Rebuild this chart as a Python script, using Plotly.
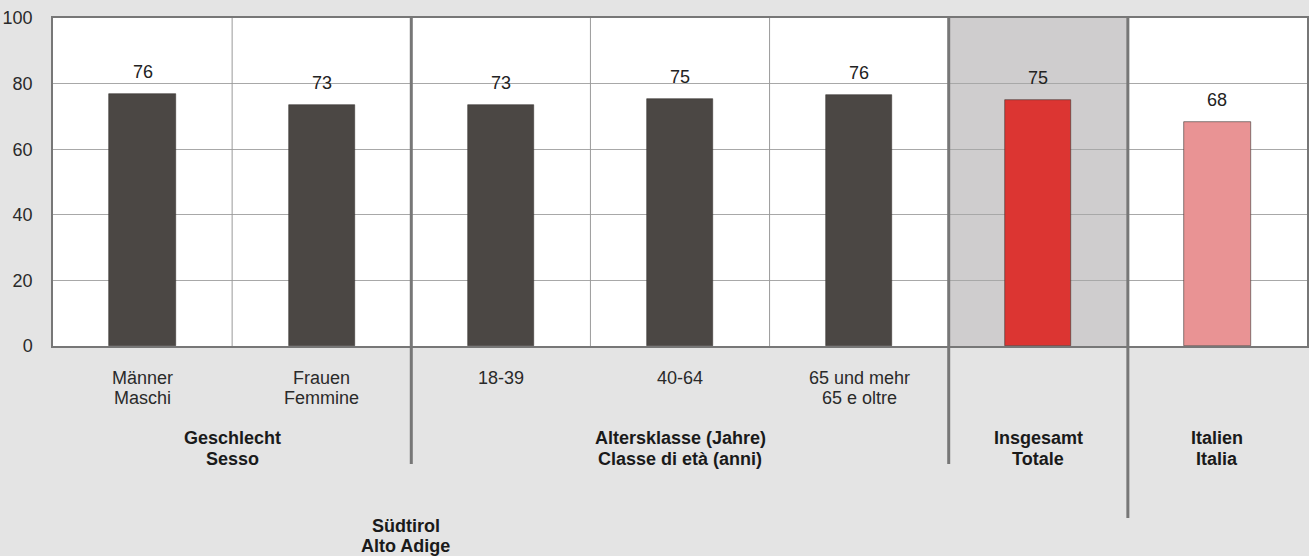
import plotly.graph_objects as go

cat_line1 = ["Männer", "Frauen", "18-39", "40-64", "65 und mehr", "", ""]
cat_line2 = ["Maschi", "Femmine", "", "", "65 e oltre", "", ""]
values = [76.8, 73.6, 73.6, 75.4, 76.5, 75.0, 68.3]
value_labels = ["76", "73", "73", "75", "76", "75", "68"]
bar_colors = ["#4b4744", "#4b4744", "#4b4744", "#4b4744", "#4b4744", "#dc3532", "#e99394"]
group_line1 = ["Geschlecht", "Altersklasse (Jahre)", "Insgesamt", "Italien"]
group_line2 = ["Sesso", "Classe di età (anni)", "Totale", "Italia"]
group_pos = [0.5, 3, 5, 6]
region_line1 = "Südtirol"
region_line2 = "Alto Adige"
y_ticks = [0, 20, 40, 60, 80, 100]

x = list(range(len(values)))
font_family = "Arial, Liberation Sans, sans-serif"

# plot area: top pixel 18, bottom pixel 346
def paper_y(py):
    return (346 - py) / 328

fig = go.Figure()
fig.add_trace(go.Bar(
    x=x, y=values, width=0.37,
    marker=dict(color=bar_colors, line=dict(color="#3a3634", width=0.6)),
    hoverinfo="skip",
))

annotations = []
for xi, v, lab in zip(x, values, value_labels):
    annotations.append(dict(x=xi, y=v, text=lab, showarrow=False, yshift=22,
                            yanchor="middle", font=dict(size=18, color="#222")))

def add_line(xv, py, text, bold=False):
    if not text:
        return
    annotations.append(dict(x=xv, xref="x", y=paper_y(py), yref="paper",
                            text=f"<b>{text}</b>" if bold else text,
                            showarrow=False, yanchor="middle",
                            font=dict(size=18, color="#1a1a1a" if bold else "#2a2a2a")))

for xi, l1, l2 in zip(x, cat_line1, cat_line2):
    add_line(xi, 378, l1)
    add_line(xi, 398, l2)
for gx, l1, l2 in zip(group_pos, group_line1, group_line2):
    add_line(gx, 438, l1, bold=True)
    add_line(gx, 459, l2, bold=True)
add_line(1.47, 526, region_line1, bold=True)
add_line(1.47, 546, region_line2, bold=True)

shapes = []
# highlighted total column background
shapes.append(dict(type="rect", xref="x", yref="y", x0=4.5, x1=5.5, y0=0, y1=100,
                   fillcolor="#cfcdce", line=dict(width=0), layer="below"))
# thin separators
for b in [0.5, 2.5, 3.5]:
    shapes.append(dict(type="line", xref="x", yref="y", x0=b, x1=b, y0=0, y1=100,
                       line=dict(color="#9a9a9a", width=1), layer="above"))
# thick separators extending below plot
for b, yb in [(1.5, paper_y(464)), (4.5, paper_y(464)), (5.5, paper_y(518))]:
    shapes.append(dict(type="line", xref="x", yref="paper", x0=b, x1=b, y0=yb, y1=1,
                       line=dict(color="#777777", width=3), layer="above"))

fig.update_layout(
    width=1309, height=556,
    margin=dict(l=53, r=0, t=18, b=210),
    paper_bgcolor="#e4e4e4",
    plot_bgcolor="#ffffff",
    showlegend=False,
    font=dict(family=font_family, color="#222"),
    annotations=annotations,
    shapes=shapes,
    bargap=0,
)
fig.update_xaxes(
    range=[-0.5, 6.5], tickmode="array", tickvals=x, showticklabels=False,
    showgrid=False, ticks="",
    showline=True, linecolor="#777777", linewidth=1.5, mirror=True, zeroline=False,
)
fig.update_yaxes(
    range=[0, 100], tickmode="array", tickvals=y_ticks,
    showgrid=True, gridcolor="#a8a8a8", gridwidth=1,
    ticks="", ticklabelstandoff=15, tickfont=dict(size=18, color="#2a2a2a"),
    showline=True, linecolor="#777777", linewidth=1.5, mirror=True, zeroline=False,
)

fig.write_html(
    "out.html",
    config={"displayModeBar": False},
    post_script="document.body.style.margin='0';document.body.style.overflow='hidden';"
                "document.body.style.background='#e4e4e4';",
)
